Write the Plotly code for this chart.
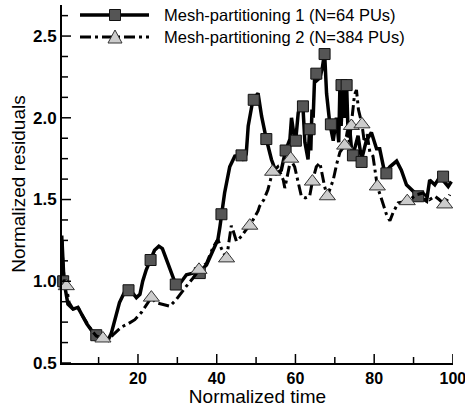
import plotly.graph_objects as go

# ---- data ----
s1_x = [0.7, 0.9, 1.2, 2.2, 3.5, 4.75, 6, 7, 8.2, 9.4, 11, 12.4, 13.2, 14.1, 15.3, 16.5, 17.6, 18.6, 19.6,
        20.5, 21.2, 22.1, 23.2, 24.2, 25.3, 26.2, 27.6, 28.9, 29.6, 30.8, 32.3, 34, 35.7, 37.4, 38.5, 39.5,
        40.3, 40.8, 41.2, 42.0, 43.3, 44.6, 46, 46.8, 47.5, 48, 49.2, 50.5, 51.4, 52.6, 53.9, 55.2, 56.4,
        57.5, 58.6, 59, 59.6, 60.1, 60.7, 61.4, 61.9, 62.4, 63.2, 63.6, 63.9, 64.2, 64.5, 64.9, 65.5, 66.2,
        66.8, 67.4, 67.9, 68.7, 69.6, 70.4, 71.0, 71.3, 71.6, 72.1, 72.5, 73.0, 73.4, 73.8, 74.2, 74.6,
        75.9, 76.8, 78.0, 79.3, 80.6, 81.4, 82.7, 84, 85.7, 86.9, 88.2, 89.5, 90.8, 92.0, 93.3, 94.1,
        95.4, 96.7, 97.9, 98.8, 99.6]
s1_y = [1.25, 1.10, 1.00, 0.86, 0.83, 0.84, 0.785, 0.74, 0.70, 0.67, 0.655, 0.64, 0.68, 0.765, 0.87, 0.93,
        0.945, 0.93, 0.90, 0.92, 1.00, 1.07, 1.13, 1.19, 1.215, 1.20, 1.11, 1.02, 0.98, 0.99, 1.04, 1.05,
        1.06, 1.10, 1.16, 1.22, 1.255, 1.33, 1.41, 1.54, 1.70, 1.765, 1.77, 1.74, 1.78, 1.95, 2.11, 2.15,
        2.01, 1.87, 1.745, 1.66, 1.68, 1.80, 1.87, 2.00, 1.90, 1.87, 2.03, 2.08, 2.07, 1.85, 1.745, 1.94,
        1.80, 2.05, 2.00, 2.27, 2.23, 2.245, 2.30, 2.40, 2.15, 1.97, 1.86, 2.00, 1.85, 2.20, 1.95, 2.20,
        2.00, 2.20, 1.88, 1.93, 1.82, 1.77, 1.89, 1.745, 1.86, 1.91, 1.81, 1.81, 1.66, 1.70, 1.735, 1.68,
        1.59, 1.56, 1.53, 1.51, 1.49, 1.62, 1.59, 1.64, 1.61, 1.58, 1.61]

s2_x = [0.7, 0.9, 1.3, 1.8, 2.5, 3.5, 4.75, 6, 8.2, 9.4, 11.1, 12.4, 14, 15.8, 17.5, 19.2, 20.9, 22.2, 23.4,
        24.5, 26.4, 28.1, 29.8, 31, 32.3, 34, 35.5, 37.4, 39.1, 40.3, 41.2, 42.5, 43.2, 43.7, 44.3, 45,
        46.3, 47.3, 48.4, 50.5, 50.9, 52, 53, 54.2, 55.5, 56.9, 57.3, 58.8, 59.8, 60.7, 61.5, 62.5, 63.6,
        64.3, 65.3, 66.2, 67.4, 68.1, 69.6, 70.5, 71.3, 72.5, 73.2, 73.7, 74.2, 74.6, 75, 75.5, 76, 76.9,
        77.5, 78.2, 78.9, 79.7, 80.8, 81.9, 83.1, 84.0, 84.8, 86.1, 88.4, 90.8, 92.4, 94.1, 95.4, 96.5,
        97.9, 99.2]
s2_y = [1.28, 1.12, 1.00, 0.97, 0.87, 0.83, 0.84, 0.785, 0.70, 0.665, 0.65, 0.64, 0.68, 0.72, 0.74, 0.765,
        0.81, 0.86, 0.90, 0.87, 0.857, 0.847, 0.89, 0.93, 0.97, 1.02, 1.07, 1.11, 1.21, 1.255, 1.20, 1.14,
        1.25, 1.34, 1.30, 1.245, 1.275, 1.31, 1.34, 1.43, 1.46, 1.50, 1.56, 1.67, 1.70, 1.62, 1.57, 1.745,
        1.70, 1.61, 1.52, 1.51, 1.52, 1.61, 1.70, 1.725, 1.58, 1.52, 1.62, 1.72, 1.79, 1.83, 1.92, 1.85,
        1.95, 2.05, 2.14, 2.17, 2.05, 1.96, 1.85, 1.90, 1.79, 1.765, 1.58, 1.50, 1.41, 1.37, 1.42, 1.48,
        1.49, 1.53, 1.54, 1.50, 1.52, 1.50, 1.47, 1.53]

m1_x = [1.0, 9.4, 17.6, 23.2, 29.6, 35.7, 41.2, 46.3, 49.4, 52.6, 57.5, 60.1, 61.9, 63.6, 65.3, 67.4,
        69.0, 71.7, 73.0, 74.6, 76.8, 83.1, 91.2, 97.5]
m1_y = [1.00, 0.67, 0.945, 1.13, 0.98, 1.05, 1.41, 1.77, 2.11, 1.87, 1.80, 1.86, 2.07, 1.93, 2.27, 2.39,
        1.96, 2.20, 2.20, 1.77, 1.73, 1.66, 1.52, 1.64]

m2_x = [1.8, 11.1, 23.4, 35.5, 42.5, 48.4, 54.2, 58.8, 64.3, 68.1, 72.5, 74.2, 76.9, 80.8, 88.4, 97.9]
m2_y = [0.97, 0.65, 0.90, 1.07, 1.14, 1.34, 1.67, 1.75, 1.61, 1.52, 1.83, 1.95, 1.96, 1.58, 1.49, 1.47]

x_major = [20, 40, 60, 80, 100]
x_minor = [10, 30, 50, 70, 90]
y_major = [0.5, 1.0, 1.5, 2.0, 2.5]
y_minor = [0.625, 0.75, 0.875, 1.125, 1.25, 1.375, 1.625, 1.75, 1.875, 2.125, 2.25, 2.375, 2.625]

names = ["Mesh-partitioning 1 (N=64 PUs)", "Mesh-partitioning 2 (N=384 PUs)"]

# ---- figure ----
W, H = 465, 407
L, R, T, B = 62, 12, 5, 44
FONT = "Liberation Sans, Arial, sans-serif"
DASHDOT = "11px,4px,3px,4px"

fig = go.Figure()
fig.add_trace(go.Scatter(x=s1_x, y=s1_y, mode="lines", line=dict(color="black", width=3.5),
                         showlegend=False, hoverinfo="skip"))
fig.add_trace(go.Scatter(x=m1_x, y=m1_y, mode="markers", cliponaxis=False,
                         marker=dict(symbol="square", size=11, color="#555555",
                                     line=dict(color="#111111", width=1)),
                         showlegend=False))
fig.add_trace(go.Scatter(x=s2_x, y=s2_y, mode="lines", line=dict(color="black", width=3, dash=DASHDOT),
                         showlegend=False, hoverinfo="skip"))
fig.add_trace(go.Scatter(x=m2_x, y=m2_y, mode="markers", cliponaxis=False,
                         marker=dict(symbol="triangle-up", size=14, color="#cccccc",
                                     line=dict(color="#333333", width=1)),
                         showlegend=False))

pw, ph = W - L - R, H - T - B


def px(x):
    return (x - L) / pw


def py(y):
    return (H - B - y) / ph


shapes = []
annos = []
# inside tick marks
for v in x_major + x_minor:
    ln = 9 if v in x_major else 6
    shapes.append(dict(type="line", xref="x", yref="paper", x0=v, x1=v, y0=0, y1=ln / ph,
                       line=dict(color="black", width=1.5)))
for v in y_major + y_minor:
    ln = 9 if v in y_major else 6
    shapes.append(dict(type="line", xref="paper", yref="y", x0=0, x1=ln / pw, y0=v, y1=v,
                       line=dict(color="black", width=1.5)))

rows = [15, 37]
for i, yy in enumerate(rows):
    shapes.append(dict(type="line", xref="paper", yref="paper", x0=px(80), x1=px(149), y0=py(yy), y1=py(yy),
                       line=dict(color="black", width=3.5 if i == 0 else 3,
                                 dash="solid" if i == 0 else DASHDOT)))
    annos.append(dict(text=names[i], xref="paper", yref="paper", x=px(162), y=py(yy),
                      xanchor="left", yanchor="middle", showarrow=False,
                      font=dict(family=FONT, size=16.5, color="black")))
# legend marker glyphs
shapes.append(dict(type="rect", xref="paper", yref="paper", x0=px(109.5), x1=px(120.5),
                   y0=py(20.5), y1=py(9.5), fillcolor="#555555", line=dict(color="#111111", width=1)))
shapes.append(dict(type="path", xref="paper", yref="paper",
                   path=f"M {px(115)} {py(30)} L {px(122)} {py(43)} L {px(108)} {py(43)} Z",
                   fillcolor="#cccccc", line=dict(color="#333333", width=1)))

fig.update_layout(
    width=W, height=H, margin=dict(l=L, r=R, t=T, b=B),
    paper_bgcolor="white", plot_bgcolor="white",
    font=dict(family=FONT, size=15, color="black"),
    shapes=shapes, annotations=annos, showlegend=False,
)
fig.update_xaxes(range=[0.7, 100.02], automargin=False, tickmode="array", tickvals=x_major,
                 ticktext=[str(v) for v in x_major], ticklabeloverflow="allow", ticks="",
                 showline=True, linecolor="black", linewidth=2, zeroline=False, showgrid=False,
                 tickfont=dict(family=FONT, size=16, color="black", weight="bold"),
                 title=dict(text="Normalized time", font=dict(family=FONT, size=19), standoff=1))
fig.update_yaxes(range=[0.5, 2.69], automargin=False, tickmode="array", tickvals=y_major,
                 ticktext=[f"{v:.1f}" for v in y_major], ticks="",
                 showline=True, linecolor="black", linewidth=2, zeroline=False, showgrid=False,
                 tickfont=dict(family=FONT, size=17, color="black", weight="bold"),
                 title=dict(text="Normalized residuals", font=dict(family=FONT, size=19), standoff=2))

fig.write_html("out.html")
